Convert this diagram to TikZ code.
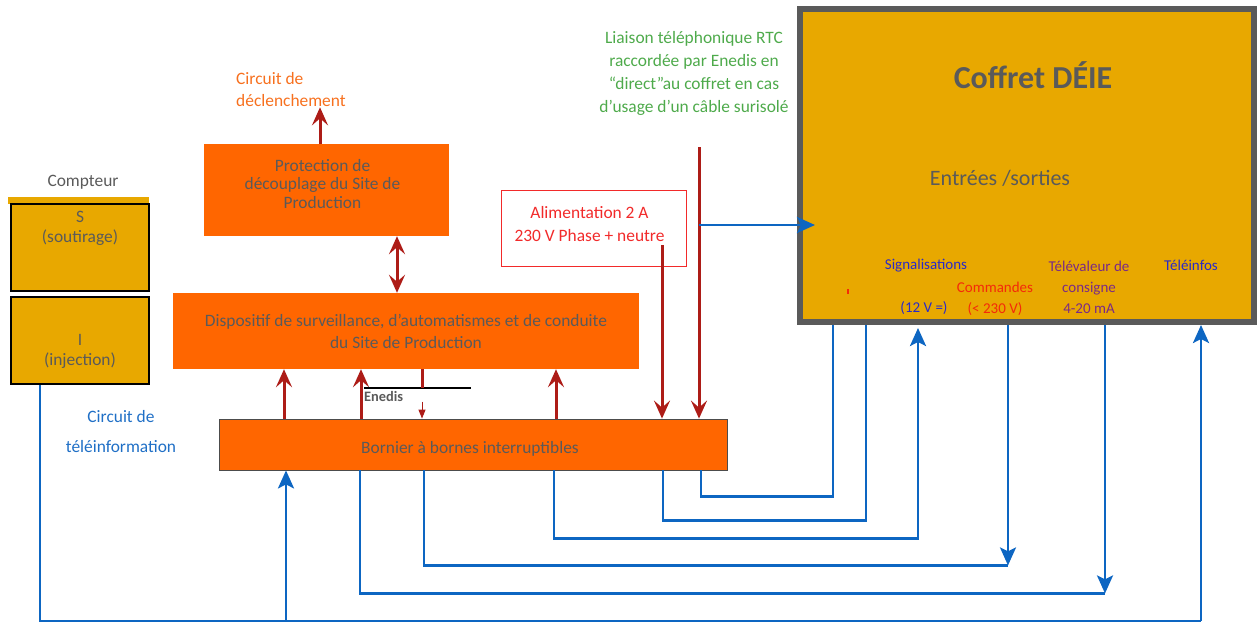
\documentclass[tikz,border=0pt]{standalone}
\usepackage{fontspec}
\setmainfont{Carlito}
\usetikzlibrary{arrows.meta}
\definecolor{orfill}{HTML}{FF6600}
\definecolor{goldfill}{HTML}{E8A800}
\definecolor{txtgray}{HTML}{5A5A5A}
\definecolor{cofgray}{HTML}{5A5A5A}
\definecolor{arrred}{HTML}{AD1C17}
\definecolor{lnblue}{HTML}{0D66C2}
\definecolor{rtcgreen}{HTML}{4EAA4B}
\definecolor{declor}{HTML}{F7701E}
\definecolor{alimred}{HTML}{F22A2A}
\definecolor{sigblue}{HTML}{2A2AC8}
\definecolor{cmdred}{HTML}{F42A0A}
\definecolor{tvpurple}{HTML}{7A2A86}
\definecolor{tiblue}{HTML}{1F6FC6}
\tikzset{
  txt_n/.style = {align=center, inner sep=0pt, font=\fontsize{17.4}{22}\selectfont},
  txt_s/.style = {align=center, inner sep=0pt, font=\fontsize{15}{21}\selectfont},
  box_o/.style = {txt_n, fill=orfill, text=txtgray},
  box_y/.style = {txt_n, fill=goldfill, draw=black, line width=2.5pt, text=txtgray, font=\fontsize{17.4}{20}\selectfont},
  arr_r/.style = {draw=arrred, line width=3pt, -{Stealth[length=18pt,width=16pt,inset=7pt]}},
  arr_rr/.style = {arr_r, {Stealth[length=18pt,width=16pt,inset=7pt]}-{Stealth[length=18pt,width=16pt,inset=7pt]}},
  ln_r/.style = {draw=arrred, line width=3pt},
  ln_b/.style = {draw=lnblue, line width=2.5pt},
  ln_bt/.style = {draw=lnblue, line width=1.6pt},
  arr_b/.style = {draw=lnblue, line width=2.8pt, -{Stealth[length=18pt,width=16pt,inset=4pt]}}
}
\begin{document}
\begin{tikzpicture}[x=1pt, y=-1pt]
\useasboundingbox (0,0) rectangle (1259,622);

\node[txt_n, text=txtgray] (cpt) at (83,182) {Compteur};
\fill[goldfill] (8,197) rectangle (149,204);
\node[box_y, minimum width=138pt, minimum height=87pt] (cpt_s) at (80,247.5) {};
\node[txt_n, text=txtgray, font=\fontsize{17.4}{20}\selectfont] at ([yshift=19pt]cpt_s.center) {S\\(soutirage)};
\node[box_y, minimum width=138pt, minimum height=87pt] (cpt_i) at (80,340.5) {};
\node[txt_n, text=txtgray, font=\fontsize{17.4}{20}\selectfont] at ([yshift=-11pt]cpt_i.center) {I\\(injection)};

\node[txt_n, text=tiblue, font=\fontsize{17.4}{30}\selectfont] (ti) at (121,432) {Circuit de\\téléinformation};

\node[box_o, minimum width=245pt, minimum height=92pt] (prot) at (326.5,190) {};
\node[txt_n, text=txtgray, font=\fontsize{17.4}{18.5}\selectfont] at ([xshift=-4pt,yshift=6pt]prot.center) {Protection de\\découplage du Site de\\Production};
\node[txt_n, text=declor, align=left, anchor=west] (decl) at (236,90) {Circuit de\\déclenchement};

\node[box_o, minimum width=466pt, minimum height=76pt] (disp) at (406,331) {Dispositif de surveillance, d’automatismes et de conduite\\du Site de Production};
\node[box_o, draw=black!70, line width=0.8pt, minimum width=508pt, minimum height=51pt] (born) at (473,444.5) {};
\node[txt_n, text=txtgray] at ([xshift=-3pt,yshift=-4pt]born.center) {Bornier à bornes interruptibles};
\node[txt_n, text=alimred, draw=alimred, line width=0.8pt, fill=white, minimum width=185pt, minimum height=76pt] (alim) at (593.5,228) {};
\node[txt_n, text=alimred, font=\fontsize{17.4}{23}\selectfont] at ([xshift=-4pt,yshift=4pt]alim.center) {Alimentation 2 A\\230 V Phase + neutre};
\node[txt_n, text=rtcgreen, font=\fontsize{17.4}{23}\selectfont] (rtc) at (694,73) {Liaison téléphonique RTC\\raccordée par Enedis en\\“direct”au coffret en cas\\d’usage d’un câble surisolé};

\node[fill=goldfill, draw=cofgray, line width=6pt, minimum width=454pt, minimum height=313pt] (cof) at (1027,165.5) {};
\node[inner sep=0pt, text=txtgray, font=\bfseries\fontsize{32}{38}\selectfont] (cof_t) at (1033,75) {Coffret DÉIE};
\node[txt_n, text=txtgray, font=\fontsize{22}{26}\selectfont] (cof_io) at (1000,178) {Entrées /sorties};
\node[txt_s, text=sigblue] (sig) at (926,266) {Signalisations};
\node[txt_s, text=sigblue] (sig_v) at (924,308) {(12 V =)};
\node[txt_s, text=cmdred] (cmd) at (995,298.5) {Commandes\\(< 230 V)};
\node[txt_s, text=tvpurple] (tv) at (1089,287.5) {Télévaleur de\\consigne\\4-20 mA};
\node[txt_s, text=sigblue] (tinf) at (1191,265) {Téléinfos};
\fill[cmdred] (847,289) rectangle (849,294);

\draw[arr_r] (320,0 |- prot.north) -- (320,0 |- decl.south);
\draw[arr_rr] (397,0 |- prot.south) -- (397,0 |- disp.north);
\draw[arr_r] (284,0 |- born.north) -- (284,0 |- disp.south);
\draw[arr_r] (361,0 |- born.north) -- (361,0 |- disp.south);
\draw[arr_r] (556,0 |- born.north) -- (556,0 |- disp.south);

\coordinate (en_l) at (364,388);
\coordinate (en_r) at (471,388);
\draw[line width=1.2pt] (en_l) -- (en_r);
\node[inner sep=0pt, anchor=north west, text=txtgray, font=\bfseries\fontsize{14.4}{16}\selectfont] (ened) at ([yshift=-3pt]en_l) {Enedis};
\draw[ln_r] (422,0 |- disp.south) -- (422,0 |- en_l);
\draw[draw=arrred, line width=1pt, -{Triangle[length=9pt,width=7pt]}] (422,0 |- ened.south) -- (422,0 |- born.north);

\coordinate (alim_o) at (662,245);
\draw[arr_r] (alim_o) -- (alim_o |- born.north);
\coordinate (rtc_o) at (699,147);
\draw[arr_r] (rtc_o) -- (rtc_o |- born.north);
\coordinate (rtc_tap) at (699,225);
\draw[arr_b, shorten >=-18pt] (rtc_tap) -- (rtc_tap -| cof.west);

\draw[ln_b] (701,0 |- born.south) -- ++(0,26) -| (833,0 |- cof.south);
\draw[ln_b] (663,0 |- born.south) -- ++(0,50) -| (866,0 |- cof.south);
\draw[arr_b, shorten >=3pt] (554,0 |- born.south) -- ++(0,68) -| (918,0 |- cof.south);
\draw[ln_b] (424,0 |- born.south) -- ++(0,95) coordinate (cmd_c) -- (cmd_c -| 1008,0);
\draw[arr_b] (1008,0 |- cof.south) -- (1008,0 |- cmd_c);
\draw[ln_b] (360,0 |- born.south) -- ++(0,123) coordinate (tv_c) -- (tv_c -| 1105,0);
\draw[arr_b] (1105,0 |- cof.south) -- (1105,0 |- tv_c);
\draw[ln_bt] (40,0 |- cpt_i.south) -- (40,621) coordinate (ti_c) -- (ti_c -| 1201,0);
\draw[arr_b] (1201,0 |- ti_c) -- (1201,0 |- cof.south);
\draw[arr_b] (286,0 |- ti_c) -- (286,0 |- born.south);
\end{tikzpicture}
\end{document}
